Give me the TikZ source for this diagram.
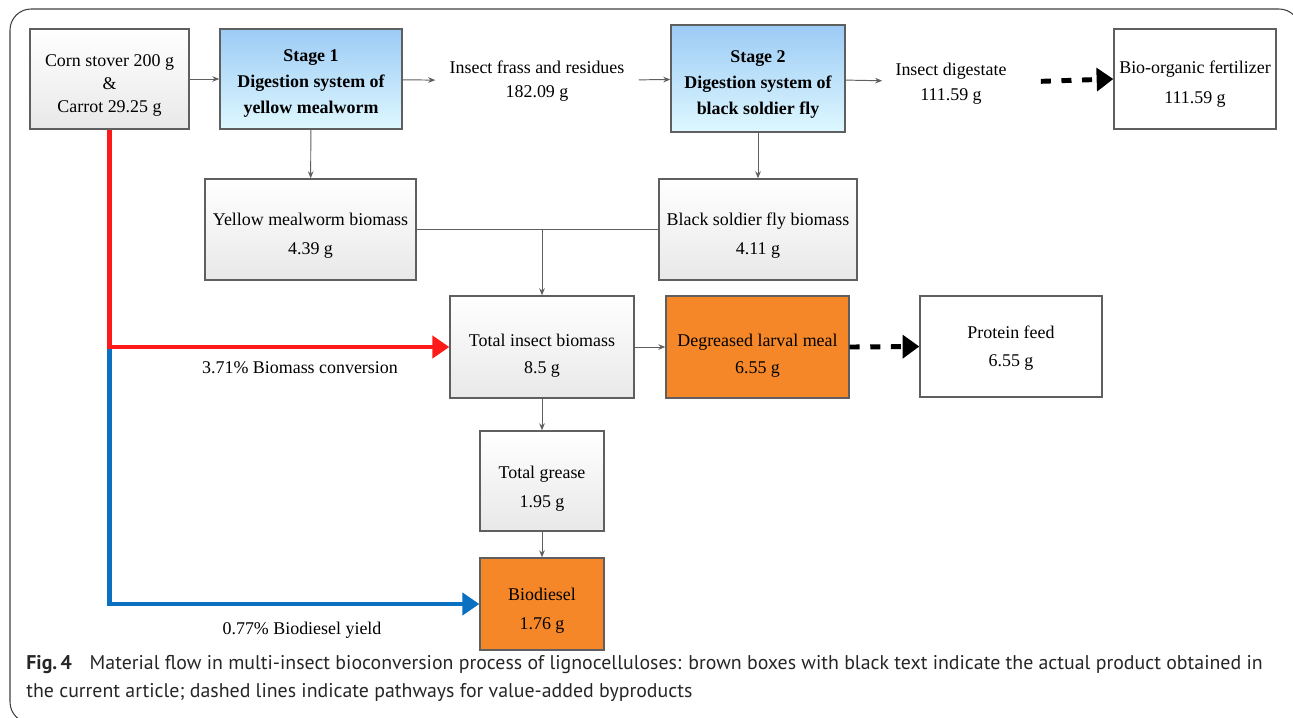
\documentclass[tikz,border=0pt]{standalone}
\usepackage{fontspec}
\setmainfont{Liberation Serif}
\newfontfamily\captionFont{PT Sans}
\usetikzlibrary{positioning,arrows.meta}

\definecolor{boxEdge}{HTML}{5F5F5F}
\definecolor{stageTop}{HTML}{9CCBF5}
\definecolor{stageBottom}{HTML}{DEF8FF}
\definecolor{productOrange}{HTML}{F58728}
\definecolor{flowRed}{HTML}{FF1A1A}
\definecolor{flowBlue}{HTML}{0A70C2}

\begin{document}
\begin{tikzpicture}[x=0.02cm,y=-0.02cm,
  boxText/.style={font=\fontsize{10.2}{16}\selectfont, align=center},
  plainBox/.style={boxText, draw=boxEdge, line width=0.8pt, inner sep=0pt},
  grayBox/.style={plainBox, top color=white, bottom color=black!9},
  stageBox/.style={plainBox, top color=stageTop, bottom color=stageBottom,
    font=\fontsize{10.2}{14.7}\selectfont\bfseries},
  orangeBox/.style={plainBox, fill=productOrange},
  thinArrow/.style={draw=boxEdge, line width=0.55pt,
    -{Stealth[length=4pt,width=3.2pt]}},
  thinLine/.style={draw=boxEdge, line width=0.55pt},
  dashArrow/.style={line width=2.8pt, dash pattern=on 5.7pt off 6pt,
    -{Triangle[length=9.5pt,width=13pt]}},
  redFlow/.style={draw=flowRed, line width=2.3pt,
    -{Triangle[length=9.6pt,width=12.5pt]}},
  blueFlow/.style={draw=flowBlue, line width=2.3pt,
    -{Triangle[length=9.6pt,width=12.5pt]}},
  captionText/.style={anchor=base west, inner sep=0pt, text=black!85,
    font=\captionFont\fontsize{11.3}{13}\selectfont}
]
    \newcommand{\thinLink}[2]{
        \draw[thinArrow] (#1) -- (#2);
    }
    \newcommand{\dashLink}[3]{
        \draw[dashArrow, shorten <=#3] (#1) -- (#2);
    }
    \newcommand{\textDrop}[1]{\rule{0pt}{#1}}
  \useasboundingbox (0,0) rectangle (1293,717);
  \draw[black!75, line width=0.6pt, rounded corners=12pt]
    (1300,40) -- (1300,9) -- (10,9) -- (10,723) -- (40,723);

  \node[grayBox, minimum width=3.18cm, minimum height=2cm,
    font=\fontsize{10.2}{13}\selectfont] (corn) at (109.5,79)
    {\textDrop{13.8pt}Corn stover 200 g\\ \&\\ Carrot 29.25 g};
  \node[stageBox, minimum width=3.64cm, minimum height=2cm] (stageOne) at (311,79)
    {\textDrop{11.6pt}Stage 1\\ Digestion system of\\ yellow mealworm};
  \node[boxText, inner xsep=8pt, font=\fontsize{10.2}{13.6}\selectfont] (frass) at (537,81)
    {Insect frass and residues\\ 182.09 g};
  \node[stageBox, minimum width=3.48cm, minimum height=2.14cm] (stageTwo) at (758,78.5)
    {\textDrop{13.8pt}Stage 2\\ Digestion system of\\ black soldier fly};
  \node[boxText, inner xsep=7.4pt,
    font=\fontsize{10.2}{14}\selectfont] (digestate) at (951,82)
    {\textDrop{9.2pt}Insect digestate\\ 111.59 g};
  \node[plainBox, minimum width=3.24cm, minimum height=2cm,
    font=\fontsize{10.2}{17}\selectfont] (fertilizer) at (1195,79)
    {\textDrop{12.6pt}Bio-organic fertilizer\\ 111.59 g};

  \node[grayBox, minimum width=4.22cm, minimum height=2.02cm,
    font=\fontsize{10.2}{16.4}\selectfont] (mealworm) at (310.5,229.5)
    {\textDrop{14.4pt}Yellow mealworm biomass\\ 4.39 g};
  \node[grayBox, minimum width=3.96cm, minimum height=2.02cm,
    font=\fontsize{10.2}{16.4}\selectfont] (soldierFly) at (758,229.5)
    {\textDrop{14.4pt}Black soldier fly biomass\\ 4.11 g};

  \node[grayBox, minimum width=3.68cm, minimum height=2.04cm,
    font=\fontsize{10.2}{15.3}\selectfont] (totalBiomass) at (542,347)
    {\textDrop{17.2pt}Total insect biomass\\ 8.5 g};
  \node[orangeBox, minimum width=3.66cm, minimum height=2.04cm,
    font=\fontsize{10.2}{15.3}\selectfont] (larvalMeal) at (757.5,347)
    {\textDrop{17.2pt}Degreased larval meal\\ 6.55 g};
  \node[plainBox, minimum width=3.64cm, minimum height=2.02cm] (proteinFeed) at (1011,346.5)
    {\textDrop{9.2pt}Protein feed\\ 6.55 g};

  \node[grayBox, minimum width=2.48cm, minimum height=2cm,
    font=\fontsize{10.2}{16.4}\selectfont] (grease) at (542,481)
    {\textDrop{15.5pt}Total grease\\ 1.95 g};
  \node[orangeBox, minimum width=2.48cm, minimum height=1.84cm,
    font=\fontsize{10.2}{16.4}\selectfont] (biodiesel) at (542,604)
    {\textDrop{14.4pt}Biodiesel\\ 1.76 g};

  \node[boxText] (conversionLabel) at (300,368) {3.71\% Biomass conversion};
  \node[boxText] (yieldLabel) at (302,630) {0.77\% Biodiesel yield};

  \thinLink{corn}{stageOne}
  \thinLink{stageOne}{frass}
  \thinLink{frass}{stageTwo}
  \thinLink{stageTwo}{digestate}
  \thinLink{stageOne}{mealworm}
  \thinLink{stageTwo}{soldierFly}
  \thinLink{totalBiomass}{larvalMeal}
  \thinLink{totalBiomass}{grease}
  \thinLink{grease}{biodiesel}
  \dashLink{digestate.east}{fertilizer.west}{12pt}
  \dashLink{larvalMeal.east}{proteinFeed.west}{0pt}

  \coordinate (merge) at (totalBiomass.north |- mealworm.east);
  \draw[thinLine] (mealworm.east) -- (soldierFly.west);
  \draw[thinArrow] (merge) -- (totalBiomass.north);

  \coordinate (split) at (corn.south |- totalBiomass.west);
  \draw[blueFlow] (split) |- (biodiesel.west);
  \draw[redFlow] (corn.south) -- (split) -- (totalBiomass.west);

  \node[captionText] (captionOne) at (26,669)
    {\textbf{Fig.\,4}\hspace{0.9em}Material flow in multi-insect bioconversion process of lignocelluloses: brown boxes with black text indicate the actual product obtained in};
  \node[captionText] (captionTwo) at (26,697)
    {the current article; dashed lines indicate pathways for value-added byproducts};
\end{tikzpicture}
\end{document}
